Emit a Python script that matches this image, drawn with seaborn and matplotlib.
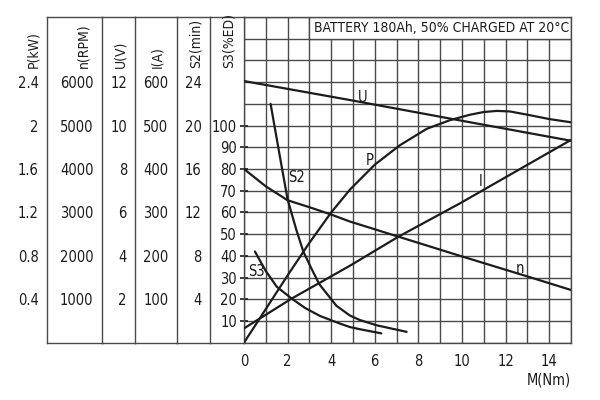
import matplotlib
matplotlib.use("Agg")
import matplotlib.pyplot as plt
from matplotlib.patches import Rectangle
import seaborn as sns
import pandas as pd

sns.set_theme(style="white")
plt.rcParams["font.family"] = ["DejaVu Sans"]
plt.rcParams["font.stretch"] = "condensed"

# ---------------- data ----------------
torque_u = [0, 5, 10, 15]
voltage_v = [12.05, 11.15, 10.22, 9.3]

torque_i = [0, 2.2, 4.85, 7.08, 9.91, 15]
current_a = [33, 102, 177, 244, 321, 467]

torque_p = [0, 1, 2, 3, 4, 4.86, 6, 7.16, 8.38, 9.45, 10.37, 11, 11.6, 12.2, 13, 14, 15]
power_kw = [0, 0.31, 0.62, 0.92, 1.2, 1.41, 1.64, 1.82, 1.97, 2.05, 2.10, 2.125, 2.135, 2.13, 2.10, 2.06, 2.03]

torque_n = [0, 1, 2, 3, 3.95, 4.86, 7.08, 9.91, 13.04, 15]
speed_rpm = [4000, 3600, 3280, 3120, 2960, 2790, 2442, 2000, 1520, 1214]

torque_s2 = [1.22, 1.65, 2.0, 2.2, 2.4, 2.72, 3.1, 3.45, 4.24, 4.86, 5.3, 6.09, 7.46]
s2_min = [22, 17.1, 13.2, 11.8, 10.4, 8.4, 6.8, 5.4, 3.4, 2.5, 2.1, 1.6, 1.0]

torque_s3 = [0.5, 1.0, 1.5, 2.19, 2.8, 3.49, 4.4, 4.86, 5.32, 6.3]
s3_ed = [42, 33, 25.8, 20.3, 16, 12.3, 8.8, 7.2, 6.2, 4.3]

p_ticks = [0.4, 0.8, 1.2, 1.6, 2.0, 2.4]
p_labels = ["0.4", "0.8", "1.2", "1.6", "2", "2.4"]
n_ticks = [1000, 2000, 3000, 4000, 5000, 6000]
u_ticks = [2, 4, 6, 8, 10, 12]
i_ticks = [100, 200, 300, 400, 500, 600]
s2_ticks = [4, 8, 12, 16, 20, 24]
s3_ticks = [10, 20, 30, 40, 50, 60, 70, 80, 90, 100]
m_ticks = [0, 2, 4, 6, 8, 10, 12, 14]

title_text = "BATTERY 180Ah, 50% CHARGED AT 20\u00b0C"

# ---------------- layout ----------------
W, H = 600, 400
GRID = "#4a4a4a"
INK = "#1c1c1c"
FS = 10.5
LFS = 10

fig = plt.figure(figsize=(6, 4), dpi=100)
fig.patch.set_facecolor("white")


def box(x0, y0, x1, y1):
    return [x0 / W, 1 - y1 / H, (x1 - x0) / W, (y1 - y0) / H]


TOP, BOT = 17, 342.7
L, R = 244, 571

ax = fig.add_axes(box(L, TOP, R, BOT))
ax.set_xlim(0, 15)
ax.set_ylim(0, 150)
ax.set_facecolor("white")
ax.set_xticks(range(0, 16), minor=True)
ax.set_yticks(range(0, 151, 10), minor=True)
ax.set_xticks(m_ticks)
ax.set_xticklabels([str(t) for t in m_ticks])
ax.set_yticks(s3_ticks)
ax.set_yticklabels([str(t) for t in s3_ticks])
ax.grid(True, which="both", color=GRID, lw=1.0)
ax.set_axisbelow(True)
ax.tick_params(axis="x", which="both", length=0, pad=8, labelsize=FS, colors=INK)
ax.tick_params(axis="y", which="minor", length=0)
ax.tick_params(axis="y", which="major", direction="inout", length=6, width=1.2,
               pad=2, labelsize=FS, colors=INK)
for s in ax.spines.values():
    s.set_visible(True)
    s.set_color(GRID)
    s.set_linewidth(1.0)

# title box (covers grid in the top row)
ax.add_patch(Rectangle((3, 140), 12, 10, facecolor="white", edgecolor=GRID,
                       lw=1.0, zorder=1.5))
ax.text(9.05, 145, title_text, ha="center", va="center", fontsize=10,
        color=INK, zorder=3)

ax.text(1.0, -0.115, "M(Nm)", transform=ax.transAxes, ha="right", va="center",
        fontsize=FS, color=INK)


# ---------------- curves on hidden twin axes ----------------
def curve(x, y, ylim, name):
    tw = ax.twinx()
    tw.set_ylim(*ylim)
    tw.axis("off")
    df = pd.DataFrame({"M": x, name: y})
    sns.lineplot(data=df, x="M", y=name, ax=tw, color=INK, lw=1.6)
    return tw


axU = curve(torque_u, voltage_v, (0, 15), "U")
axI = curve(torque_i, current_a, (0, 750), "I")
axP = curve(torque_p, power_kw, (0, 3.0), "P")
axN = curve(torque_n, speed_rpm, (0, 7500), "n")
axS2 = curve(torque_s2, s2_min, (0, 30), "S2")
axS3 = curve(torque_s3, s3_ed, (0, 150), "S3")

ax.set_xlim(0, 15)

# curve labels
axU.text(5.46, 11.3, "U", ha="center", va="center", fontsize=FS, color=INK)
axP.text(5.78, 1.68, "P", ha="center", va="center", fontsize=FS, color=INK)
axS2.text(2.42, 15.2, "S2", ha="center", va="center", fontsize=FS, color=INK)
axI.text(10.86, 371, "I", ha="center", va="center", fontsize=FS, color=INK)
axN.text(12.64, 1715, "n", ha="center", va="center", fontsize=FS, color=INK)
axS3.text(0.55, 32.7, "S3", ha="center", va="center", fontsize=FS, color=INK)

# ---------------- left scale columns ----------------
cols = [
    (47, 101.7, (0, 3.0), p_ticks, p_labels, "P(kW)", 33),
    (101.7, 135.3, (0, 7500), n_ticks, [str(t) for t in n_ticks], "n(RPM)", 83),
    (135.3, 176.7, (0, 15), u_ticks, [str(t) for t in u_ticks], "U(V)", 120),
    (176.7, 210, (0, 750), i_ticks, [str(t) for t in i_ticks], "I(A)", 157),
    (210, L, (0, 30), s2_ticks, [str(t) for t in s2_ticks], "S2(min)", 196),
]
for x0, x1, ylim, ticks, labels, title, tx in cols:
    a = fig.add_axes(box(x0, TOP, x1, BOT))
    a.set_facecolor("none")
    a.set_ylim(*ylim)
    a.set_xlim(0, 1)
    a.set_xticks([])
    a.set_yticks(ticks)
    a.set_yticklabels(labels)
    a.tick_params(axis="y", direction="inout", length=6, width=1.2, pad=3,
                  labelsize=FS, colors=INK)
    for side, s in a.spines.items():
        s.set_color(GRID)
        s.set_linewidth(1.0)
        s.set_visible(side != "right")
    fig.text(tx / W, 1 - 68 / H, title, rotation=90, rotation_mode="anchor",
             ha="left", va="center", fontsize=LFS, color=INK)

fig.text(229 / W, 1 - 68 / H, "S3(%ED)", rotation=90, rotation_mode="anchor",
         ha="left", va="center", fontsize=LFS, color=INK)

fig.savefig("out.png", dpi=100, facecolor="white")
